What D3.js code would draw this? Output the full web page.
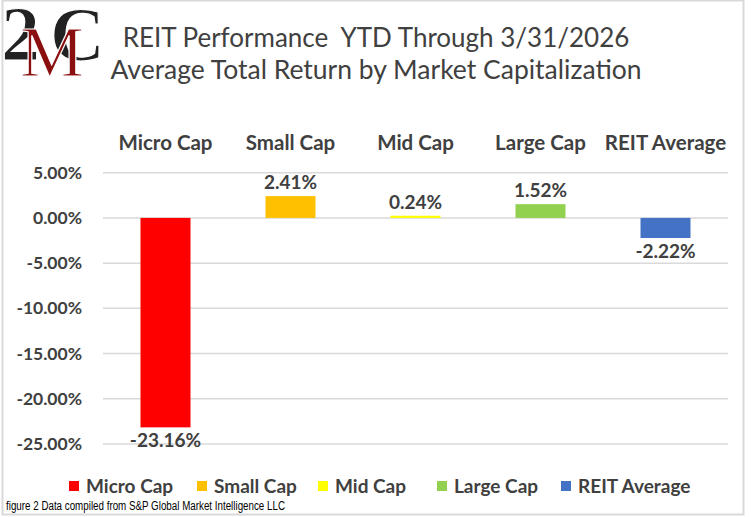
<!DOCTYPE html>
<meta charset="utf-8">
<head>
    <title>REIT Performance</title>
    <script src="https://d3js.org/d3.v7.min.js"></script>
    <style>
        body { margin: 0; background: #fff; }
        svg text { font-family: Lato, "Open Sans", sans-serif; }
    </style>
</head>
<body>
<svg id="chart" width="751" height="517"></svg>
<script>
// data
var categories = ["Micro Cap", "Small Cap", "Mid Cap", "Large Cap", "REIT Average"]
var returns = [-23.16, 2.41, 0.24, 1.52, -2.22]
var colors = ["#ff0000", "#ffc000", "#ffff00", "#92d050", "#4472c4"]
var yTicks = [5, 0, -5, -10, -15, -20, -25]
var titleLines = ["REIT Performance  YTD Through 3/31/2026", "Average Total Return by Market Capitalization"]
var footnote = "figure 2 Data compiled from S&P Global Market Intelligence LLC"

var textColor = "#404040"
var svg = d3.select("#chart")

// frame
svg.append("rect")
    .attr("x", 2.5).attr("y", 0.5)
    .attr("width", 741).attr("height", 514)
    .attr("fill", "white")
    .attr("stroke", "#d9d9d9")
    .attr("stroke-width", 2)

// logo 2MC (black 2 and C, red M over them)
var logo = svg.append("g").style("font-family", "'Liberation Serif', serif")
logo.append("text").attr("x", 1).attr("y", 60).text("2")
    .style("font-family", "'Liberation Serif', serif")
    .attr("font-size", 78).attr("font-weight", "bold")
    .attr("fill", "#222").attr("stroke", "white").attr("stroke-width", 1.2)
logo.append("text").attr("x", 50).attr("y", 60).text("C")
    .style("font-family", "'Liberation Serif', serif")
    .attr("font-size", 76).attr("font-weight", "bold")
    .attr("fill", "#222").attr("stroke", "white").attr("stroke-width", 1.2)
logo.append("text").attr("x", 20).attr("y", 76).text("M")
    .style("font-family", "'Liberation Serif', serif")
    .attr("font-size", 72)
    .attr("fill", "#8b0f0f").attr("stroke", "white").attr("stroke-width", 1.2)

// title
svg.selectAll(".title")
    .data(titleLines)
    .enter()
    .append("text")
    .attr("class", "title")
    .attr("x", 376)
    .attr("y", function(d, i) { return 47 + i * 32 })
    .attr("text-anchor", "middle")
    .attr("font-size", function(d, i) { return i == 0 ? 26 : 26.5 })
    .attr("fill", textColor)
    .style("white-space", "pre")
    .text(function(d) { return d })

var margin = {left: 103, right: 23, top: 172.7, bottom: 444}

var xg = d3.scaleBand()
    .domain(categories)
    .range([margin.left, 751 - margin.right])

var y = d3.scaleLinear()
    .domain([-25, 5])
    .range([margin.bottom, margin.top])

// gridlines
svg.append("g")
    .selectAll("line")
    .data(yTicks)
    .enter()
    .append("line")
    .attr("x1", margin.left)
    .attr("x2", 751 - margin.right)
    .attr("y1", function(d) { return y(d) })
    .attr("y2", function(d) { return y(d) })
    .attr("stroke", "#d9d9d9")
    .attr("stroke-width", 1.5)

// y axis labels
var yAxis = svg.append("g")
    .attr("transform", "translate(" + margin.left + ",0)")
    .call(d3.axisLeft(y).tickValues(yTicks).tickSize(0).tickPadding(21)
        .tickFormat(function(d) { return d.toFixed(2) + "%" }))
yAxis.select(".domain").remove()
yAxis.selectAll("text")
    .style("font-family", "Lato, sans-serif")
    .attr("font-size", 17.5)
    .attr("font-weight", "bold")
    .attr("fill", textColor)

// category labels on top
svg.selectAll(".cat")
    .data(categories)
    .enter()
    .append("text")
    .attr("class", "cat")
    .attr("x", function(d) { return xg(d) + xg.bandwidth() / 2 })
    .attr("y", 150)
    .attr("text-anchor", "middle")
    .attr("font-size", 20.5)
    .attr("font-weight", "bold")
    .attr("fill", textColor)
    .text(function(d) { return d })

// bars
var data = categories.map(function(c, i) { return {cat: c, v: returns[i], color: colors[i]} })
var bw = xg.bandwidth() * 0.4

svg.selectAll(".bar")
    .data(data)
    .enter()
    .append("rect")
    .attr("class", "bar")
    .attr("x", function(d) { return xg(d.cat) + (xg.bandwidth() - bw) / 2 })
    .attr("width", bw)
    .attr("y", function(d) { return y(Math.max(0, d.v)) })
    .attr("height", function(d) { return Math.abs(y(d.v) - y(0)) })
    .attr("fill", function(d) { return d.color })

// value labels
svg.selectAll(".val")
    .data(data)
    .enter()
    .append("text")
    .attr("class", "val")
    .attr("x", function(d) { return xg(d.cat) + xg.bandwidth() / 2 })
    .attr("y", function(d) { return d.v >= 0 ? y(d.v) - 7 : y(d.v) + 20 })
    .attr("text-anchor", "middle")
    .attr("font-size", 19)
    .attr("font-weight", "bold")
    .attr("fill", textColor)
    .text(function(d) { return d.v.toFixed(2) + "%" })

// legend
var legendX = [69, 197, 318, 437, 561]
var legend = svg.selectAll(".leg")
    .data(data)
    .enter()
    .append("g")
    .attr("class", "leg")
    .attr("transform", function(d, i) { return "translate(" + legendX[i] + ",481)" })
legend.append("rect")
    .attr("width", 10).attr("height", 10)
    .attr("fill", function(d) { return d.color })
legend.append("text")
    .attr("x", 17).attr("y", 11.5)
    .attr("font-size", 19)
    .attr("font-weight", "bold")
    .attr("fill", textColor)
    .text(function(d) { return d.cat })

// footnote (narrow font in the original)
svg.append("text")
    .attr("x", 6).attr("y", 510)
    .style("font-family", "'Liberation Sans', Arial, sans-serif")
    .attr("font-size", 12.5)
    .attr("textLength", 279)
    .attr("lengthAdjust", "spacingAndGlyphs")
    .attr("fill", "#000")
    .text(footnote)
</script>
</body>
